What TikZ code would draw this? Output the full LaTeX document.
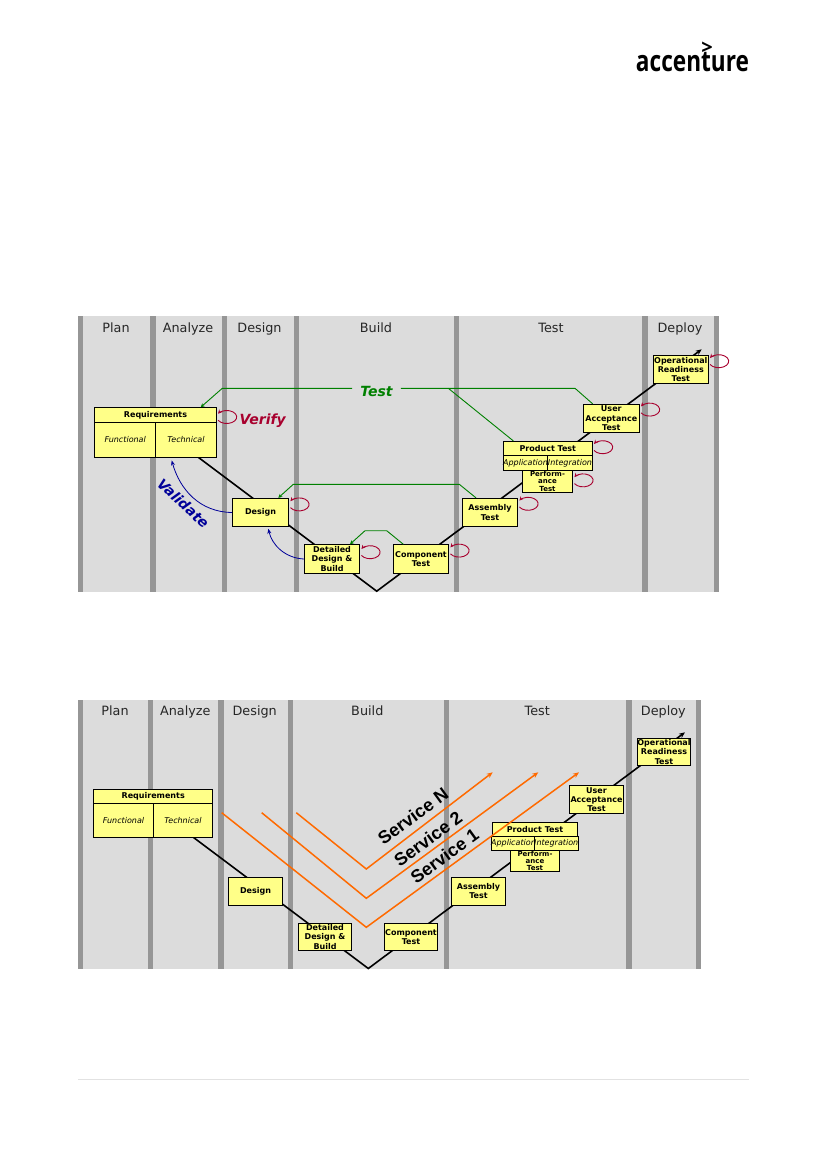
\documentclass[tikz,border=0pt]{standalone}
\usepackage{fontspec}
\setmainfont{DejaVu Sans}
\newfontfamily\logofont{Open Sans}
\newfontfamily\servicefont{Liberation Sans}
\usetikzlibrary{arrows.meta, positioning, calc}
\definecolor{panelgray}{HTML}{DCDCDC}
\definecolor{bargray}{HTML}{969696}
\definecolor{boxyellow}{HTML}{FFFF88}
\definecolor{testgreen}{HTML}{008000}
\definecolor{verifyred}{HTML}{A8002E}
\definecolor{validblue}{HTML}{000099}
\definecolor{svcorange}{HTML}{FF6A00}
\definecolor{footgray}{HTML}{E2E2E2}
\tikzset{
  phase/.style={font=\fontsize{12.8}{14}\selectfont, text=black!85, inner sep=0pt, anchor=base},
  stage/.style={draw=black, fill=boxyellow, line width=0.9pt, inner sep=0pt, align=center,
    font=\fontsize{8}{9.3}\selectfont\bfseries},
  subcell/.style={stage, font=\fontsize{8}{9.3}\selectfont\itshape},
  vline/.style={black, line width=1.6pt},
  testline/.style={testgreen, line width=0.9pt, -{Stealth[length=4pt, width=4pt]}},
  validline/.style={validblue, line width=0.8pt, -{Stealth[length=5pt, width=4pt]}},
  retest/.style={verifyred, line width=0.9pt, -{Stealth[length=4pt, width=4pt]}},
  service/.style={svcorange, line width=1.5pt, -{Stealth[length=6pt, width=5pt]}},
  servicetext/.style={font=\fontsize{18}{20}\selectfont\servicefont\bfseries, rotate=36, inner sep=0pt}
}
\begin{document}
\begin{tikzpicture}[x=1pt, y=-1pt]
\useasboundingbox (0,0) rectangle (827,1169);

% Logo
\node[font=\fontsize{29}{30}\selectfont\logofont\bfseries, xscale=0.78, inner sep=0pt] (logoword) at (692.5,62) {accenture};
\node[font=\fontsize{20}{22}\selectfont\logofont\bfseries, inner sep=0pt] (logomark) at (707,48) {>};

% Footer rule
\draw[footgray, line width=0.8pt] (78,1079.5) -- (749,1079.5);

% ---------- Upper chart ----------
\fill[panelgray] (78,316) rectangle (719,591.7);
\foreach \bx in {78,150.2,222,294,454,642.2,714}
  \fill[bargray] (\bx,316) rectangle +(5.3,275.7);
\foreach \nm/\lx/\txt in {plana/116/Plan, analyzea/188/Analyze, designa/259.5/Design, builda/376/Build, testa/551/Test, deploya/680/Deploy}
  \node[phase] (\nm) at (\lx,332) {\txt};

% V line (behind the boxes)
\coordinate (vstarta) at (198.3,457.3);
\coordinate (vbottoma) at (376.7,591.2);
\coordinate (vtopa) at (701.7,349.3);
\draw[vline, -{Stealth[length=6pt, width=5pt]}] (vstarta) -- (vbottoma) -- (vtopa);

% Requirements block
\node[stage, minimum width=121.6pt, minimum height=14.6pt] (reqhead) at (155.5,415) {Requirements};
\node[subcell, minimum width=61pt, minimum height=35pt] (reqfunc) at (125.2,439.8) {Functional};
\node[subcell, minimum width=60.6pt, minimum height=35pt] (reqtech) at (186,439.8) {Technical};

% Stages
\node[stage, minimum width=56.4pt, minimum height=28.4pt] (designbox) at (260.5,512.5) {Design};
\node[stage, minimum width=55.4pt, minimum height=28.6pt] (detailbox) at (332,559) {Detailed\\Design \&\\Build};
\node[stage, minimum width=55.4pt, minimum height=28.6pt] (compbox) at (421,559) {Component\\Test};
\node[stage, minimum width=55.4pt, minimum height=28.4pt] (asmbox) at (490,512.5) {Assembly\\Test};
\node[stage, minimum width=50.4pt, minimum height=22.3pt, font=\fontsize{7}{7.2}\selectfont\bfseries] (perfbox) at (547.5,481.2) {Perform-\\ance\\Test};
\node[stage, minimum width=89pt, minimum height=14pt] (prodhead) at (547.8,448.3) {Product Test};
\node[subcell, minimum width=44.4pt, minimum height=15pt] (prodapp) at (525.5,462.8) {Application};
\node[subcell, minimum width=44.6pt, minimum height=15pt] (prodint) at (570,462.8) {Integration};
\node[stage, minimum width=56pt, minimum height=28pt] (userbox) at (611.3,418.3) {User\\Acceptance\\Test};
\node[stage, minimum width=55pt, minimum height=27.6pt] (operbox) at (680.8,369.5) {Operational\\Readiness\\Test};

% Test lines
\node[font=\fontsize{14}{16}\selectfont\bfseries\itshape, text=testgreen, inner xsep=8pt, inner ysep=0pt] (testword) at (376.5,391) {Test};
\coordinate (testbenda) at (222.3,388.3);
\coordinate (testbendb) at (575,388.3);
\coordinate (testbendc) at (448.3,388.3);
\draw[testline] (testword.west |- testbenda) -- (testbenda) -- ([xshift=45.2pt]reqhead.north);
\draw[testline, -] (testword.east |- testbendb) -- (testbendb) -- ([xshift=-18.6pt]userbox.north);
\draw[testline, -] (testbendc) -- ([xshift=-34.5pt]prodhead.north);
\coordinate (desbenda) at (293.3,484.3);
\coordinate (desbendb) at (459.3,484.3);
\draw[testline, {Stealth[length=4pt, width=4pt]}-] ([xshift=17.8pt]designbox.north) -- (desbenda) -- (desbendb) -- ([xshift=-14pt]asmbox.north);
\coordinate (detbenda) at (365,530.7);
\coordinate (detbendb) at (386.7,530.7);
\draw[testline, {Stealth[length=4pt, width=4pt]}-] ([xshift=18pt]detailbox.north) -- (detbenda) -- (detbendb) -- ([xshift=-17.7pt]compbox.north);

% Validate arrows
\draw[validline] (designbox.west) .. controls (200,512) and (180,490) .. ([xshift=46.5pt,yshift=-2.7pt]reqfunc.south);
\draw[validline] (detailbox.west) .. controls (285,558) and (272,545) .. ([xshift=7.8pt,yshift=-1.6pt]designbox.south);
\node[font=\fontsize{14}{16}\selectfont\bfseries\itshape, text=validblue, rotate=-43, inner sep=0pt] (validword) at (183.3,503.3) {Validate};

% Verify loops
\foreach \nd/\dy in {reqhead/13, designbox/9.8, detailbox/11.2, compbox/9.6, asmbox/9.2, perfbox/14, prodhead/9.6, userbox/9, operbox/9.2}
  \draw[retest] ([shift={(1.3,\dy)}]\nd.north east) arc[start angle=150, end angle=-150, x radius=10, y radius=6.5];
\node[font=\fontsize{14}{16}\selectfont\bfseries\itshape, text=verifyred, inner sep=0pt] (verifyword) at (262.7,421) {Verify};

% ---------- Lower chart ----------
\fill[panelgray] (78,700) rectangle (701,969);
\foreach \bx in {78,148,218.2,288,443.5,626.2,696}
  \fill[bargray] (\bx,700) rectangle +(5.3,269);
\foreach \nm/\lx/\txt in {planb/115/Plan, analyzeb/185.3/Analyze, designb/254.7/Design, buildb/367.3/Build, testb/537.3/Test, deployb/663.3/Deploy}
  \node[phase] (\nm) at (\lx,715.5) {\txt};

\coordinate (vstartb) at (193.3,837.3);
\coordinate (vbottomb) at (368.3,968.5);
\coordinate (vtopb) at (685,732.3);
\draw[vline, -{Stealth[length=6pt, width=5pt]}] (vstartb) -- (vbottomb) -- (vtopb);

\node[stage, minimum width=119pt, minimum height=14pt] (reqheadb) at (153.2,796.3) {Requirements};
\node[subcell, minimum width=59.6pt, minimum height=34pt] (reqfuncb) at (123.5,820.3) {Functional};
\node[subcell, minimum width=59.4pt, minimum height=34pt] (reqtechb) at (183,820.3) {Technical};
\node[stage, minimum width=54.4pt, minimum height=28pt] (designboxb) at (255.5,891.3) {Design};
\node[stage, minimum width=53.4pt, minimum height=27.4pt] (detailboxb) at (325,937) {Detailed\\Design \&\\Build};
\node[stage, minimum width=53.4pt, minimum height=27.4pt] (compboxb) at (411,937) {Component\\Test};
\node[stage, minimum width=54.4pt, minimum height=28pt] (asmboxb) at (478.5,891.3) {Assembly\\Test};
\node[stage, minimum width=49.4pt, minimum height=20.6pt, font=\fontsize{7}{7}\selectfont\bfseries] (perfboxb) at (535,861) {Perform-\\ance\\Test};
\node[stage, minimum width=85.4pt, minimum height=14pt] (prodheadb) at (535,829.3) {Product Test};
\node[subcell, minimum width=42.4pt, minimum height=14.4pt] (prodappb) at (513.5,843.5) {Application};
\node[subcell, minimum width=43pt, minimum height=14.4pt] (prodintb) at (556.2,843.5) {Integration};
\node[stage, minimum width=54.4pt, minimum height=28.4pt] (userboxb) at (596.5,799.5) {User\\Acceptance\\Test};
\node[stage, minimum width=53.4pt, minimum height=27.4pt] (operboxb) at (664,752) {Operational\\Readiness\\Test};

% Service arrows (over the boxes)
\draw[service] (221.7,812.7) -- (366.3,927.3) -- (579,772.3);
\draw[service] (261.7,812.7) -- (366.3,898.3) -- (538.3,772.3);
\draw[service] (296.3,812.7) -- (366.3,869) -- (492.7,772.3);
\node[servicetext] (svcn) at (413,816) {Service N};
\node[servicetext] (svctwo) at (428,839) {Service 2};
\node[servicetext] (svcone) at (444.5,856) {Service 1};

\end{tikzpicture}
\end{document}
